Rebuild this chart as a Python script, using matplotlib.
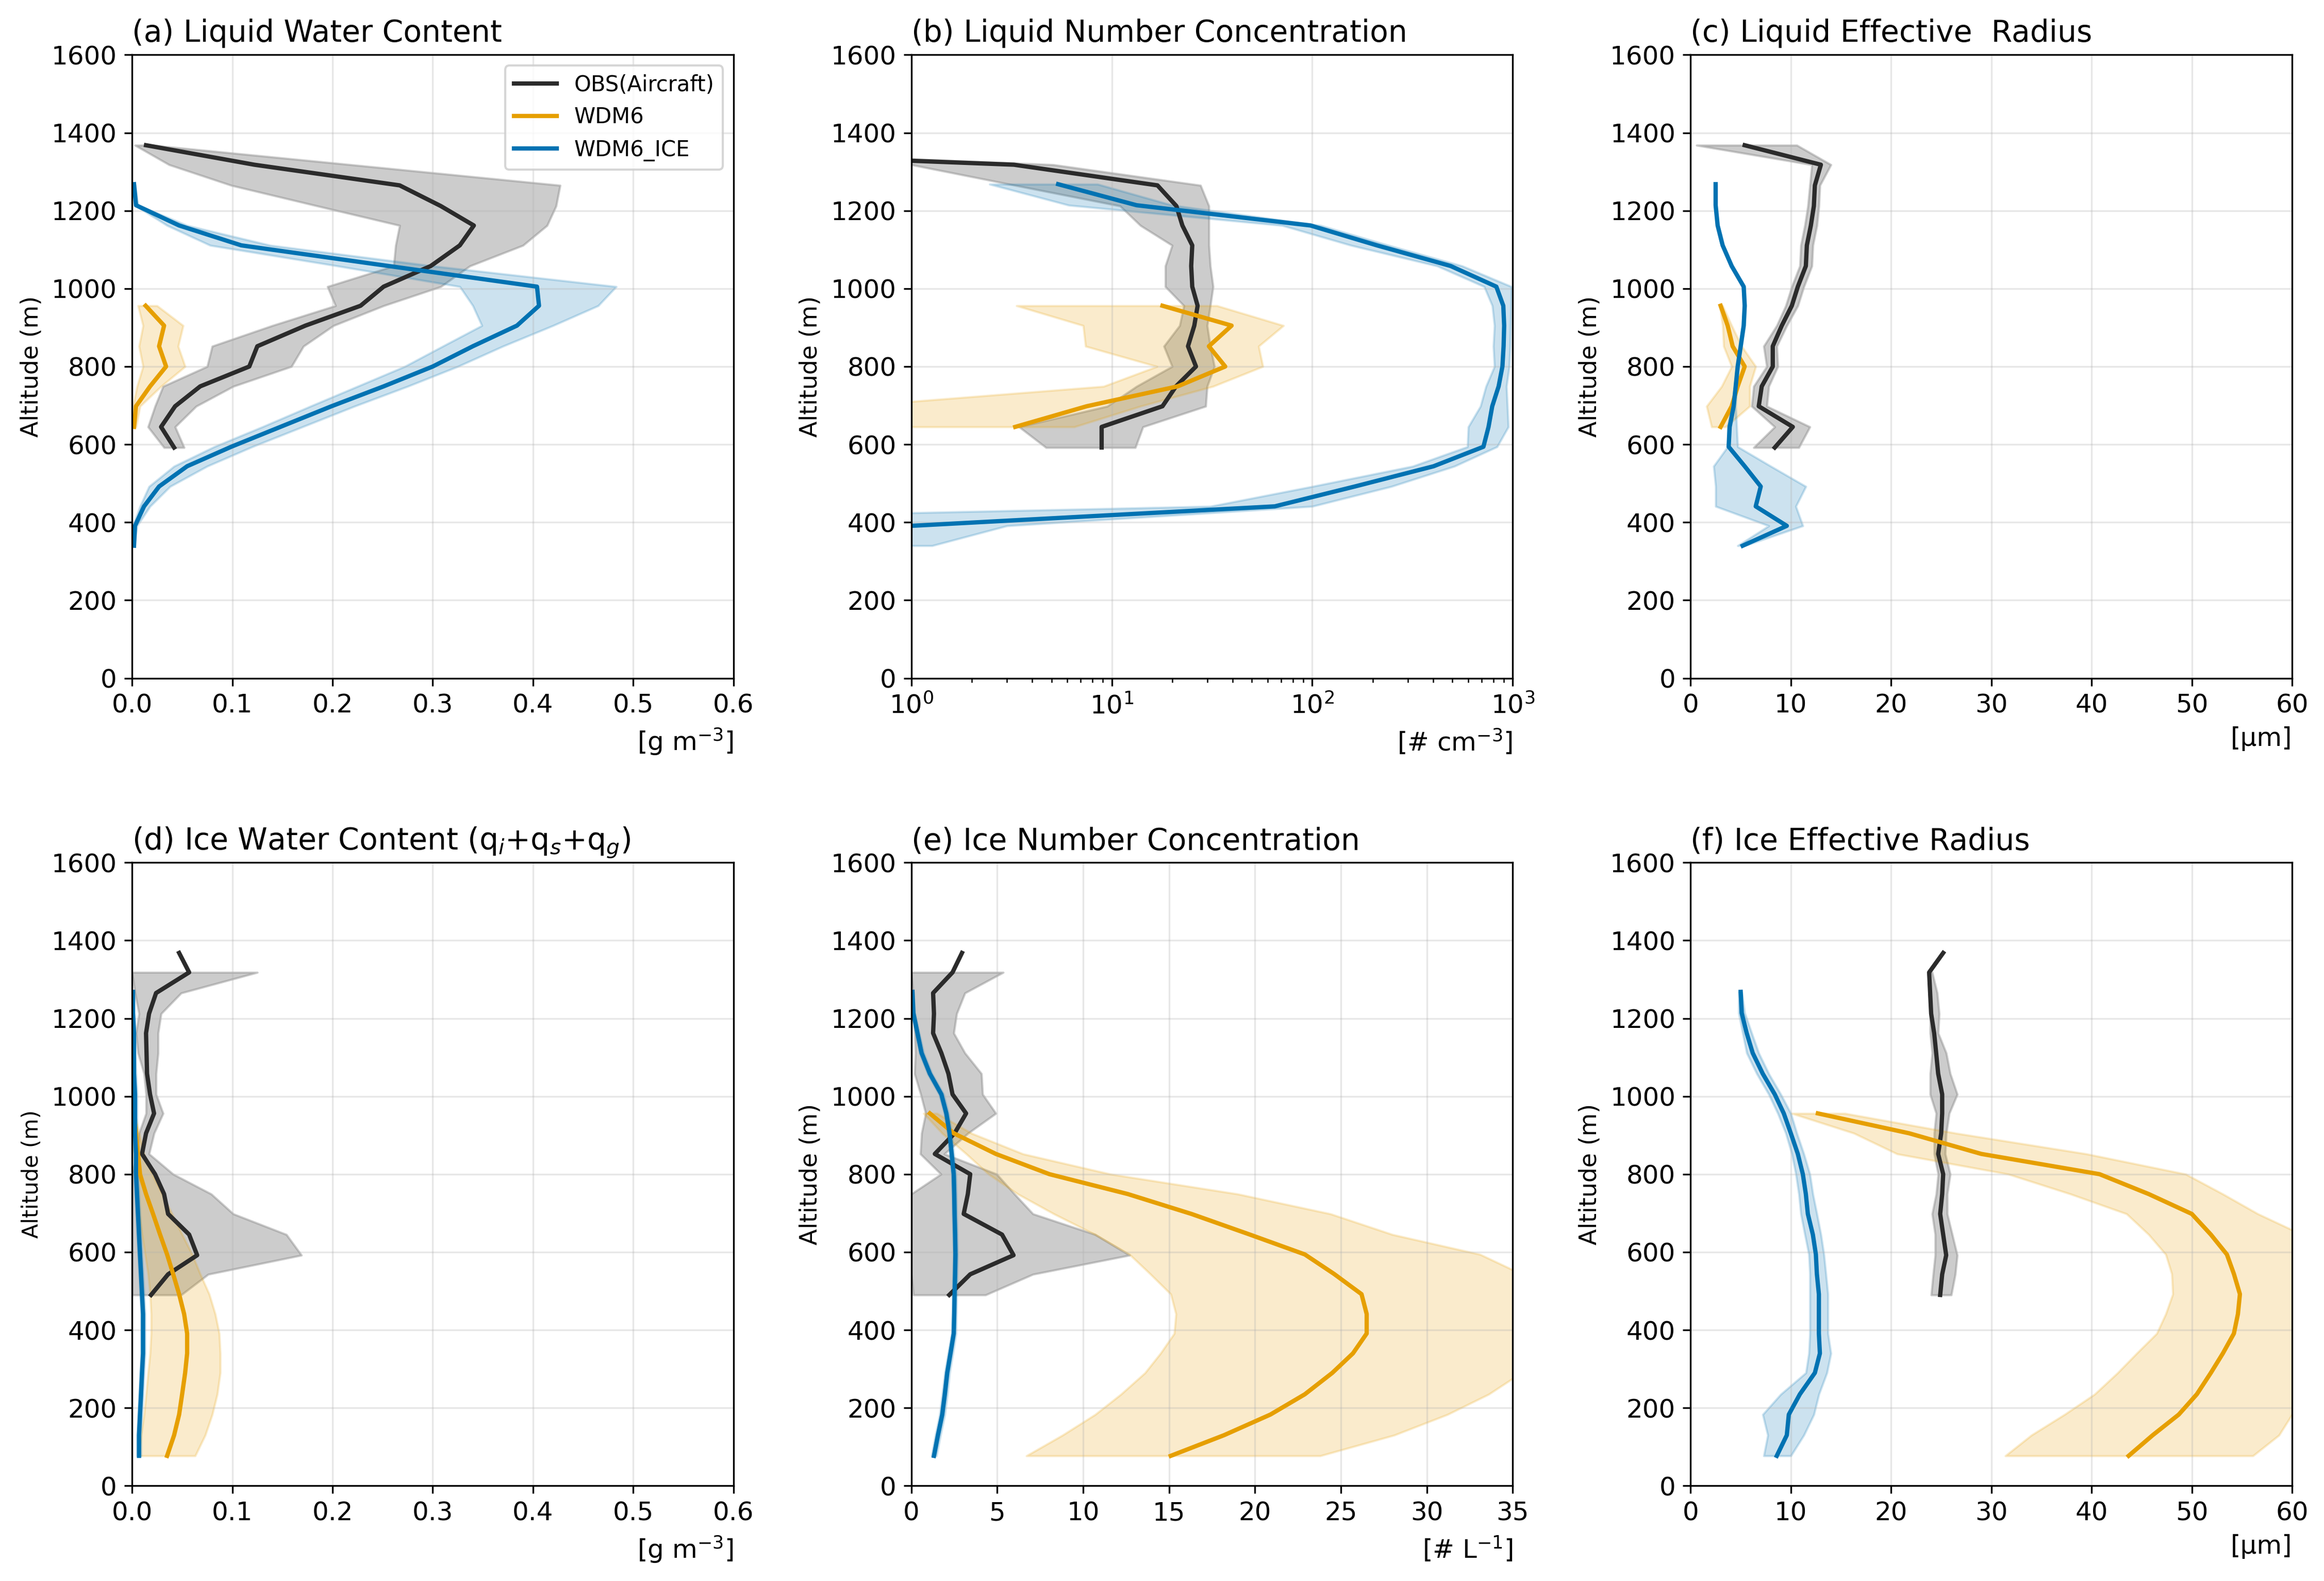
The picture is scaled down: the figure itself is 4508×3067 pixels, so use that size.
import numpy as np
import matplotlib
matplotlib.use("Agg")
import matplotlib.pyplot as plt

nan = np.nan

# ---------------- altitude levels (m) ----------------
z_obs = [1368, 1318, 1265, 1212, 1162, 1111, 1058, 1005, 956, 905, 852, 800,
         749, 698, 645, 592, 543, 490]
z_mod = [1268, 1214, 1162, 1111, 1058, 1005, 956, 905, 852, 800, 749, 698,
         645, 594, 544, 492, 441, 391, 340, 290, 235, 183, 130, 77]

# ---------------- (a) Liquid water content ----------------
a_obs = [0.014, 0.122, 0.267, 0.308, 0.341, 0.327, 0.298, 0.251, 0.228, 0.173,
         0.125, 0.117, 0.068, 0.043, 0.029, 0.042]
a_obs_lo = [0.003, 0.037, 0.099, 0.185, 0.267, 0.263, 0.261, 0.195, 0.203, 0.140,
            0.080, 0.075, 0.031, 0.023, 0.016, 0.032]
a_obs_hi = [0.020, 0.218, 0.427, 0.423, 0.414, 0.390, 0.337, 0.308, 0.251, 0.201,
            0.171, 0.159, 0.101, 0.064, 0.043, 0.052]
a_w6 = [0.0136, 0.032, 0.027, 0.034, 0.018, 0.004, 0.002]
a_w6_lo = [0.006, 0.011, 0.007, 0.011, 0.005, 0.001, 0.001]
a_w6_hi = [0.025, 0.051, 0.046, 0.053, 0.029, 0.008, 0.004]
a_ice = [0.002, 0.004, 0.047, 0.109, 0.256, 0.404, 0.406, 0.384, 0.340, 0.300,
         0.251, 0.199, 0.148, 0.099, 0.055, 0.027, 0.012, 0.003, 0.002]
a_ice_lo = [0.001, 0.003, 0.035, 0.078, 0.205, 0.327, 0.340, 0.349, 0.310, 0.272,
            0.225, 0.178, 0.130, 0.082, 0.042, 0.017, 0.008, 0.001, 0.001]
a_ice_hi = [0.003, 0.006, 0.055, 0.138, 0.300, 0.483, 0.465, 0.420, 0.370, 0.325,
            0.275, 0.222, 0.170, 0.120, 0.075, 0.038, 0.018, 0.005, 0.002]

# ---------------- (b) Liquid number concentration ----------------
b_obs = [0.01, 3.25, 16.9, 21.0, 22.5, 25.2, 24.9, 25.2, 26.8, 25.8, 24.0, 26.3,
         20.9, 17.9, 8.9, 8.9]
b_obs_lo = [0.01, 1.0, 3.3, 11.0, 13.9, 20.0, 18.5, 18.5, 22.9, 21.8, 18.2, 20.0,
            13.3, 9.5, 3.45, 4.7]
b_obs_hi = [0.02, 5.1, 27.7, 30.5, 30.5, 30.5, 31.0, 32.0, 31.0, 29.9, 31.0, 32.5,
            29.9, 29.4, 14.3, 13.1]
b_w6 = [17.9, 39.6, 30.5, 36.8, 21.3, 7.5, 3.3]
b_w6_lo = [3.35, 7.2, 7.4, 16.8, 9.1, 0.5, 0.5]
b_w6_hi = [33.5, 71.8, 54.0, 56.7, 32.0, 13.9, 6.5]
b_ice = [5.4, 13.3, 98.0, 210.0, 490.0, 828.0, 897.0, 906.0, 900.0, 888.0, 850.0,
         790.0, 757.0, 714.0, 403.0, 163.0, 65.0, 1.0, 0.5]
b_ice_lo = [2.46, 6.1, 71.0, 156.0, 420.0, 720.0, 790.0, 810.0, 800.0, 810.0, 735.0,
            690.0, 600.0, 594.0, 317.0, 100.0, 31.0, 0.001, 0.001]
b_ice_hi = [8.5, 20.0, 110.0, 240.0, 560.0, 985.0, 980.0, 975.0, 970.0, 960.0, 930.0,
            940.0, 950.0, 835.0, 512.0, 248.0, 100.0, 3.0, 1.27]

# ---------------- (c) Liquid effective radius ----------------
c_obs = [5.4, 13.0, 12.4, 12.3, 12.0, 11.6, 11.5, 10.7, 10.1, 9.1, 8.2, 8.2,
         7.1, 6.8, 10.2, 8.4]
c_obs_lo = [0.6, 12.1, 11.9, 11.7, 11.4, 11.0, 10.9, 10.1, 9.5, 8.6, 7.3, 7.6,
            6.3, 6.1, 8.4, 6.3]
c_obs_hi = [10.6, 14.0, 12.9, 12.8, 12.6, 12.2, 12.1, 11.3, 10.7, 9.6, 8.6, 8.7,
            7.8, 7.6, 11.9, 10.8]
c_w6 = [3.0, 3.7, 4.2, 5.4, 4.7, 4.1, 3.0]
c_w6_lo = [2.9, 3.2, 3.3, 4.1, 3.1, 1.6, 2.1]
c_w6_hi = [3.2, 4.1, 5.1, 6.5, 5.9, 5.9, 3.5]
c_ice = [2.5, 2.5, 2.7, 3.2, 4.1, 5.3, 5.4, 5.3, 5.0, 4.7, 4.5, 4.3, 3.9, 3.8,
         5.4, 7.0, 6.5, 9.6, 5.2]
c_ice_lo = [2.4, 2.4, 2.6, 3.1, 4.0, 5.2, 5.3, 5.2, 4.9, 4.6, 4.4, 4.1, 3.7, 3.7,
            2.3, 2.5, 2.5, 7.8, 4.7]
c_ice_hi = [2.6, 2.6, 2.8, 3.3, 4.2, 5.4, 5.5, 5.4, 5.1, 4.8, 4.6, 4.5, 4.6, 4.7,
            8.0, 11.5, 10.5, 11.2, 5.4]

# ---------------- (d) Ice water content ----------------
d_obs = [0.047, 0.057, 0.024, 0.017, 0.014, 0.0145, 0.015, 0.018, 0.022, 0.014,
         0.010, 0.023, 0.032, 0.036, 0.057, 0.065, 0.036, 0.019]
d_obs_lo = [nan, 0.0, 0.003, 0.007, 0.004, 0.006, 0.012, 0.014, 0.014, 0.007,
            0.005, 0.0, 0.0, 0.0, 0.0, 0.0, 0.0, 0.0]
d_obs_hi = [nan, 0.125, 0.049, 0.029, 0.026, 0.026, 0.024, 0.024, 0.031, 0.022,
            0.017, 0.041, 0.079, 0.101, 0.154, 0.169, 0.076, 0.049]
d_w6 = [0.002, 0.004, 0.006, 0.008, 0.014, 0.021, 0.028, 0.035, 0.041, 0.047,
        0.052, 0.055, 0.055, 0.053, 0.050, 0.047, 0.042, 0.035]
d_w6_lo = [0.0, 0.001, 0.002, 0.003, 0.005, 0.007, 0.010, 0.013, 0.016, 0.018,
           0.019, 0.019, 0.018, 0.016, 0.014, 0.012, 0.009, 0.007]
d_w6_hi = [0.003, 0.007, 0.012, 0.020, 0.030, 0.040, 0.050, 0.060, 0.068, 0.077,
           0.083, 0.087, 0.088, 0.088, 0.085, 0.080, 0.073, 0.063]
d_ice = [0.001, 0.001, 0.002, 0.002, 0.002, 0.003, 0.003, 0.003, 0.004, 0.004,
         0.005, 0.006, 0.007, 0.008, 0.009, 0.010, 0.011, 0.011, 0.011, 0.010,
         0.009, 0.008, 0.007, 0.007]
d_ice_lo = [0.0, 0.0, 0.0005, 0.0005, 0.0005, 0.001, 0.001, 0.001, 0.002, 0.002,
            0.003, 0.004, 0.005, 0.006, 0.007, 0.008, 0.009, 0.009, 0.009, 0.008,
            0.007, 0.006, 0.005, 0.005]
d_ice_hi = [0.002, 0.002, 0.003, 0.003, 0.004, 0.005, 0.005, 0.005, 0.006, 0.006,
            0.007, 0.008, 0.009, 0.010, 0.011, 0.012, 0.013, 0.013, 0.013, 0.012,
            0.011, 0.010, 0.009, 0.009]

# ---------------- (e) Ice number concentration ----------------
e_obs = [2.95, 2.4, 1.27, 1.32, 1.27, 1.75, 2.16, 2.4, 3.19, 2.52, 1.37, 3.43,
         3.29, 3.05, 5.28, 5.95, 3.43, 2.21]
e_obs_lo = [nan, 0.0, 0.1, 0.15, 0.2, 0.24, 0.19, 0.55, 0.84, 0.6, 0.53, 1.73,
            0.0, 0.0, 0.0, 0.0, 0.0, 0.12]
e_obs_hi = [nan, 5.35, 3.12, 2.64, 2.47, 3.12, 4.08, 4.15, 4.92, 3.3, 1.92, 4.97,
            6.0, 7.08, 10.7, 12.7, 7.08, 4.32]
e_w6 = [1.08, 2.47, 4.92, 8.04, 12.6, 16.3, 19.7, 22.9, 24.6, 26.2, 26.5, 26.5,
        25.7, 24.5, 22.9, 20.9, 18.2, 15.1]
e_w6_lo = [0.72, 1.8, 3.2, 4.5, 6.2, 8.3, 10.7, 12.7, 13.9, 15.1, 15.4, 15.3,
           14.5, 13.6, 12.2, 10.7, 8.8, 6.7]
e_w6_hi = [1.5, 3.5, 6.5, 11.6, 19.0, 24.4, 28.0, 33.1, 35.5, 37.5, 38.5, 38.5,
           37.5, 35.5, 33.6, 31.2, 28.1, 23.8]
e_ice = [0.07, 0.12, 0.36, 0.6, 1.08, 1.75, 2.04, 2.23, 2.35, 2.47, 2.5, 2.52,
         2.55, 2.57, 2.55, 2.52, 2.5, 2.47, 2.28, 2.09, 1.95, 1.8, 1.55, 1.32]
e_ice_lo = [0.0, 0.02, 0.25, 0.48, 0.95, 1.62, 1.92, 2.11, 2.23, 2.35, 2.38, 2.4,
            2.43, 2.45, 2.43, 2.4, 2.38, 2.35, 2.14, 1.95, 1.8, 1.65, 1.4, 1.18]
e_ice_hi = [0.12, 0.2, 0.46, 0.72, 1.2, 1.88, 2.16, 2.35, 2.47, 2.59, 2.62, 2.64,
            2.67, 2.69, 2.67, 2.64, 2.62, 2.6, 2.42, 2.23, 2.1, 1.95, 1.7, 1.46]

# ---------------- (f) Ice effective radius ----------------
f_obs = [25.2, 23.8, 23.9, 24.0, 24.3, 24.5, 24.7, 25.1, 25.1, 25.0, 24.7, 25.2,
         25.1, 24.9, 25.2, 25.5, 25.1, 24.9]
f_obs_lo = [nan, 23.7, 23.8, 23.9, 23.9, 24.1, 23.9, 23.9, 24.5, 24.3, 24.3, 24.7,
            24.5, 24.1, 24.4, 24.4, 24.2, 24.0]
f_obs_hi = [nan, 24.1, 24.6, 24.8, 24.7, 25.5, 25.9, 26.6, 25.8, 25.5, 25.4, 25.9,
            25.6, 25.6, 26.1, 26.6, 26.4, 26.0]
f_w6 = [12.7, 21.8, 29.0, 40.8, 45.7, 50.0, 51.9, 53.5, 54.2, 54.8, 54.6, 54.2,
        53.1, 51.9, 50.5, 48.7, 46.1, 43.7]
f_w6_lo = [10.1, 16.3, 20.6, 31.7, 37.9, 43.5, 45.7, 47.4, 48.0, 48.1, 47.4, 46.5,
           44.5, 42.6, 40.3, 37.3, 34.0, 31.4]
f_w6_hi = [15.4, 26.5, 39.5, 49.4, 53.1, 56.6, 61.0, 64.0, 65.0, 65.0, 65.0, 65.0,
           64.0, 62.5, 61.0, 60.0, 58.7, 56.1]
f_ice = [5.0, 5.1, 5.6, 6.2, 7.2, 8.4, 9.3, 10.0, 10.7, 11.2, 11.5, 11.7, 12.2,
         12.5, 12.6, 12.8, 12.8, 12.8, 12.9, 12.4, 10.9, 9.8, 9.6, 8.6]
f_ice_lo = [4.8, 4.8, 5.2, 5.6, 6.6, 7.8, 8.7, 9.5, 10.1, 10.5, 10.8, 11.0, 11.4,
            11.8, 11.9, 11.9, 11.9, 11.9, 11.8, 11.5, 9.0, 7.2, 7.7, 7.3]
f_ice_hi = [5.1, 5.4, 6.1, 6.8, 7.8, 9.0, 10.0, 10.6, 11.3, 11.9, 12.2, 12.6, 13.0,
            13.3, 13.5, 13.7, 13.7, 13.7, 14.0, 13.6, 12.8, 12.3, 11.3, 10.0]

titles = ["(a) Liquid Water Content", "(b) Liquid Number Concentration",
          "(c) Liquid Effective  Radius",
          "(d) Ice Water Content (q$_i$+q$_s$+q$_g$)",
          "(e) Ice Number Concentration", "(f) Ice Effective Radius"]
xlabels = ["[g m$^{-3}$]", "[# cm$^{-3}$]", "[\u03bcm]",
           "[g m$^{-3}$]", "[# L$^{-1}$]", "[\u03bcm]"]
labels = ["OBS(Aircraft)", "WDM6", "WDM6_ICE"]

C_OBS = "#2b2b2b"
C_W6 = "#E69F00"
C_ICE = "#0072B2"
LW = 2.0

fig, axes = plt.subplots(2, 3, figsize=(4508 / 300, 3067 / 300), dpi=300)
fig.subplots_adjust(left=0.0568, right=0.98625, top=0.9653, bottom=0.0602,
                    wspace=0.2956, hspace=0.2958)

panels = [
    (a_obs, a_obs_lo, a_obs_hi, a_w6, a_w6_lo, a_w6_hi, a_ice, a_ice_lo, a_ice_hi),
    (b_obs, b_obs_lo, b_obs_hi, b_w6, b_w6_lo, b_w6_hi, b_ice, b_ice_lo, b_ice_hi),
    (c_obs, c_obs_lo, c_obs_hi, c_w6, c_w6_lo, c_w6_hi, c_ice, c_ice_lo, c_ice_hi),
    (d_obs, d_obs_lo, d_obs_hi, d_w6, d_w6_lo, d_w6_hi, d_ice, d_ice_lo, d_ice_hi),
    (e_obs, e_obs_lo, e_obs_hi, e_w6, e_w6_lo, e_w6_hi, e_ice, e_ice_lo, e_ice_hi),
    (f_obs, f_obs_lo, f_obs_hi, f_w6, f_w6_lo, f_w6_hi, f_ice, f_ice_lo, f_ice_hi),
]

xlims = [(0, 0.6), (1, 1000), (0, 60), (0, 0.6), (0, 35), (0, 60)]
xticks = [np.arange(0, 0.61, 0.1), None, np.arange(0, 61, 10),
          np.arange(0, 0.61, 0.1), np.arange(0, 36, 5), np.arange(0, 61, 10)]

for i, ax in enumerate(axes.flat):
    obs, olo, ohi, w6, wlo, whi, ice, ilo, ihi = panels[i]
    zo = np.array(z_obs[:len(obs)], dtype=float)
    zw = np.array(z_mod[6:6 + len(w6)], dtype=float)
    zi = np.array(z_mod[:len(ice)], dtype=float)
    if i == 1:
        ax.set_xscale("log")
    ax.fill_betweenx(zo, np.array(olo, float), np.array(ohi, float),
                     color="gray", alpha=0.4, lw=1.0)
    ax.plot(obs, zo, color=C_OBS, lw=LW, label=labels[0])
    ax.fill_betweenx(zw, np.array(wlo, float), np.array(whi, float),
                     color=C_W6, alpha=0.2, lw=1.0)
    ax.plot(w6, zw, color=C_W6, lw=LW, label=labels[1])
    ax.fill_betweenx(zi, np.array(ilo, float), np.array(ihi, float),
                     color=C_ICE, alpha=0.2, lw=1.0)
    ax.plot(ice, zi, color=C_ICE, lw=LW, label=labels[2])

    ax.set_xlim(*xlims[i])
    if xticks[i] is not None:
        ax.set_xticks(xticks[i])
    ax.set_ylim(0, 1600)
    ax.set_yticks(np.arange(0, 1601, 200))
    ax.grid(True, alpha=0.3)
    ax.tick_params(labelsize=12)
    ax.set_title(titles[i], loc="left", fontsize=14)
    ax.set_xlabel(xlabels[i], loc="right", fontsize=12)
    ax.set_ylabel("Altitude (m)", fontsize=10 if i == 3 else 11)

axes[0, 0].legend(loc="upper right", fontsize=10)

fig.savefig("out.png", dpi=300)
